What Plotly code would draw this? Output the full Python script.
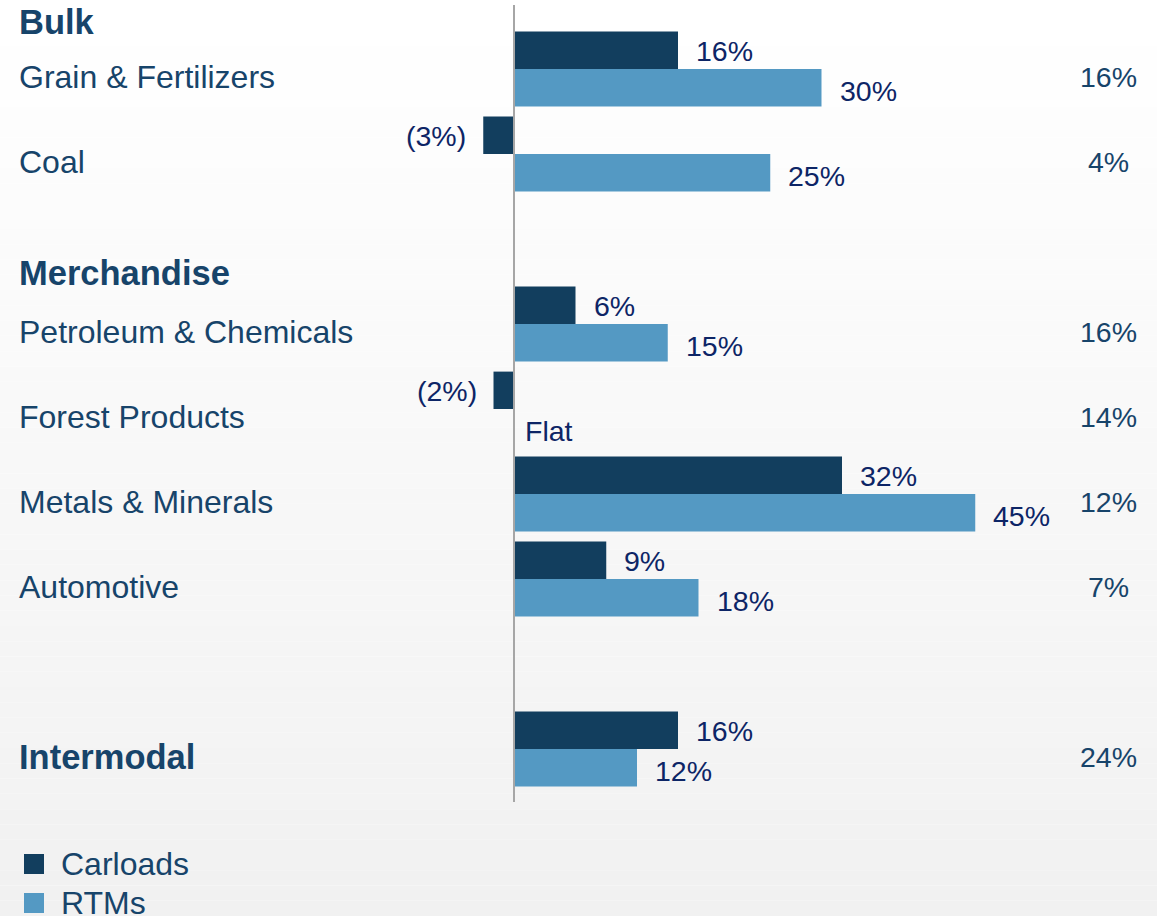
import plotly.graph_objects as go

# ---- data ----
categories = ["Grain & Fertilizers", "Coal", "Petroleum & Chemicals", "Forest Products",
              "Metals & Minerals", "Automotive", "Intermodal"]
carloads = [16, -3, 6, -2, 32, 9, 16]
rtms = [30, 25, 15, 0, 45, 18, 12]
right_values = [16, 4, 16, 14, 12, 7, 24]
group_headers = ["Bulk", "Merchandise"]
series_names = ["Carloads", "RTMs"]

# ---- layout helpers ----
row_pos = [0, 1, 3, 4, 5, 6, 8]
header_pos = [-0.553, 2.4]
bold_rows = {"Intermodal"}

W, H = 1157, 916
X0 = 514.0      # pixel of zero
PX = 10.25      # px per percent
Y0 = 69.0       # pixel of first row center
PY = 85.0       # px per row
xr = [-X0 / PX, (W - X0) / PX]
yr = [(H - Y0) / PY, -Y0 / PY]

DARK = "#123e5e"
LIGHT = "#5499c3"
LABEL = "#17446a"
VAL = "#0d2566"
FONT = "Arial, Liberation Sans, sans-serif"
BW = 0.44
CAT_SIZE = 32
BOLD_SIZE = 34.5
VAL_SIZE = 28.5


def fmt(v):
    if v < 0:
        return "(%d%%)" % abs(v)
    if v == 0:
        return "Flat"
    return "%d%%" % v


fig = go.Figure()
fig.add_trace(go.Bar(y=row_pos, x=carloads, orientation="h", name=series_names[0],
                     marker=dict(color=DARK, line=dict(width=0)), width=BW, offset=-BW,
                     showlegend=False, hoverinfo="x+name"))
fig.add_trace(go.Bar(y=row_pos, x=rtms, orientation="h", name=series_names[1],
                     marker=dict(color=LIGHT, line=dict(width=0)), width=BW, offset=0,
                     showlegend=False, hoverinfo="x+name"))

ann = []
# bar value labels
for vals, dy, ys in ((carloads, -BW / 2, -1), (rtms, BW / 2, -3)):
    for p, v in zip(row_pos, vals):
        if v < 0:
            xa, xs = "right", -15
        elif v == 0:
            xa, xs = "left", 9
        else:
            xa, xs = "left", 16
        ann.append(dict(x=v, y=p + dy, xref="x", yref="y", text=fmt(v), showarrow=False,
                        xanchor=xa, yanchor="middle", xshift=xs, yshift=ys,
                        font=dict(family=FONT, size=VAL_SIZE, color=VAL)))

# category labels and right column
for c, p, r in zip(categories, row_pos, right_values):
    bold = c in bold_rows
    ann.append(dict(x=17 / W, y=p, xref="paper", yref="y",
                    text=("<b>%s</b>" % c) if bold else c, showarrow=False,
                    xanchor="left", yanchor="middle", yshift=-8,
                    font=dict(family=FONT, size=BOLD_SIZE if bold else CAT_SIZE, color=LABEL)))
    ann.append(dict(x=1108 / W, y=p, xref="paper", yref="y", text="%d%%" % r,
                    showarrow=False, xanchor="center", yanchor="middle", yshift=-8,
                    font=dict(family=FONT, size=VAL_SIZE, color=LABEL)))

for h, p in zip(group_headers, header_pos):
    ann.append(dict(x=17 / W, y=p, xref="paper", yref="y", text="<b>%s</b>" % h,
                    showarrow=False, xanchor="left", yanchor="middle",
                    font=dict(family=FONT, size=BOLD_SIZE, color=LABEL)))

shapes = []
# background gradient
N = 60
for i in range(N):
    t = i / (N - 1)
    c = int(round(255 - t * (255 - 241)))
    shapes.append(dict(type="rect", xref="paper", yref="paper", x0=0, x1=1,
                       y0=1 - (i + 1) / N, y1=1 - i / N, layer="below",
                       fillcolor="rgb(%d,%d,%d)" % (c, c, c), line=dict(width=0)))
# zero line
shapes.append(dict(type="line", xref="x", yref="paper", x0=0, x1=0,
                   y0=1 - 802 / H, y1=1 - 5 / H, line=dict(color="#a6a6a6", width=2)))

# manual legend
for i, (nm, col) in enumerate(zip(series_names, [DARK, LIGHT])):
    yc = 864 + 39 * i
    shapes.append(dict(type="rect", xref="paper", yref="paper",
                       x0=24 / W, x1=44 / W, y0=1 - (yc + 10) / H, y1=1 - (yc - 10) / H,
                       fillcolor=col, line=dict(width=0)))
    ann.append(dict(x=59 / W, y=1 - yc / H, xref="paper", yref="paper", text=nm,
                    showarrow=False, xanchor="left", yanchor="middle",
                    font=dict(family=FONT, size=CAT_SIZE, color=LABEL)))

fig.update_layout(
    width=W, height=H, margin=dict(l=0, r=0, t=0, b=0),
    paper_bgcolor="white", plot_bgcolor="rgba(0,0,0,0)",
    barmode="overlay", annotations=ann, shapes=shapes,
    xaxis=dict(range=xr, visible=False, fixedrange=True),
    yaxis=dict(range=yr, visible=False, fixedrange=True),
)
fig.write_html("out.html", config={"displayModeBar": False},
               post_script="document.body.style.margin='0';document.body.style.overflow='hidden';")
